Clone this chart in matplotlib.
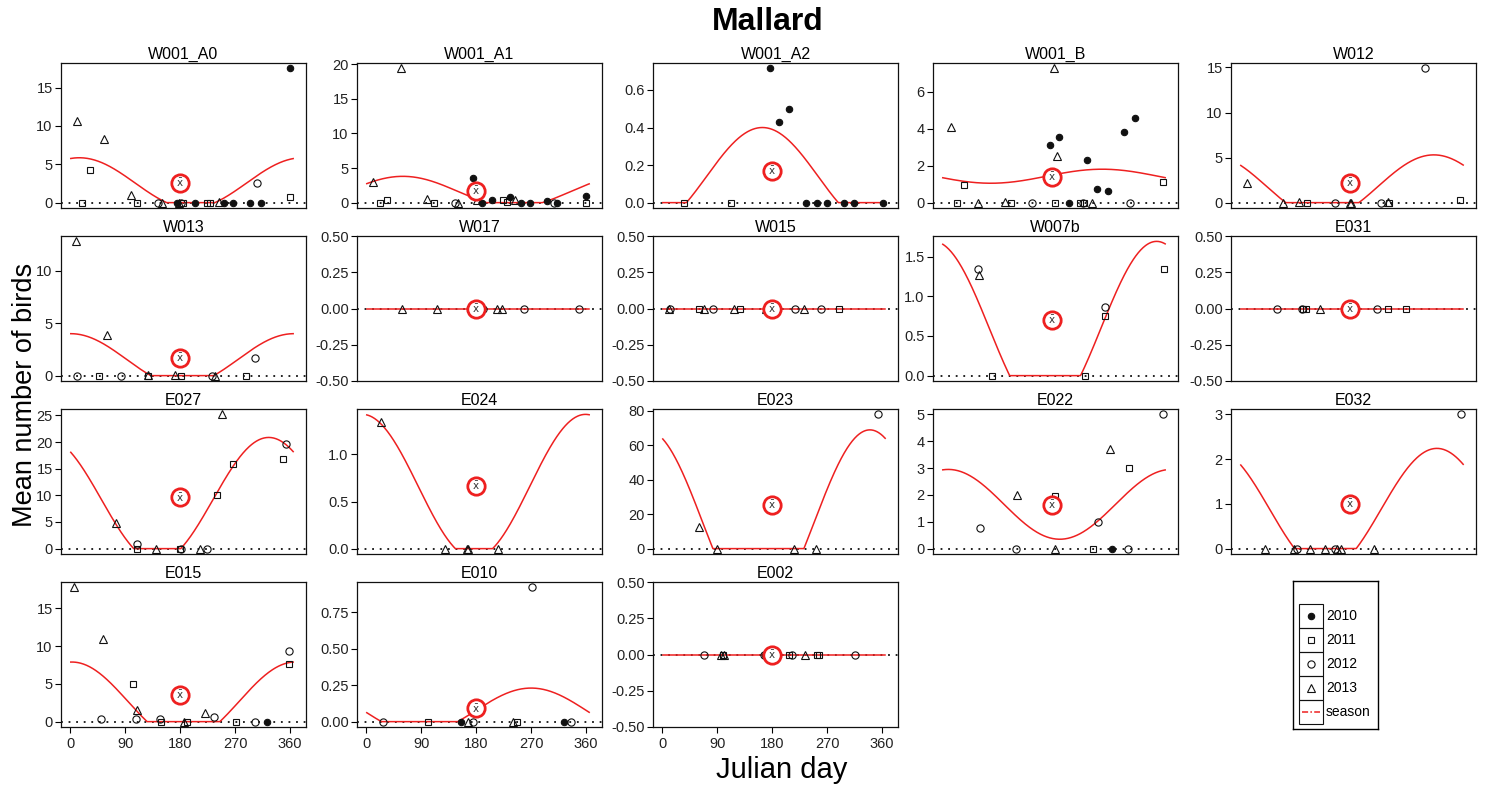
import numpy as np
import matplotlib
matplotlib.use('agg')
import matplotlib.pyplot as plt
from matplotlib.patches import Rectangle

plt.rcParams['font.family'] = ['Liberation Sans', 'DejaVu Sans']
plt.rcParams['axes.unicode_minus'] = False

sites = ['W001_A0', 'W001_A1', 'W001_A2', 'W001_B', 'W012',
         'W013', 'W017', 'W015', 'W007b', 'E031',
         'E027', 'E024', 'E023', 'E022', 'E032',
         'E015', 'E010', 'E002']

# survey points: julian day, mean count, year
W001_A0_day = [11, 55, 33, 100, 20, 110, 144, 150, 175, 178, 182, 185, 205, 224, 229, 243, 251, 267, 295, 312, 305, 359, 359]
W001_A0_val = [10.7, 8.3, 4.2, 1.0, 0, 0, 0, 0, 0, 0, 0, 0, 0, 0, 0, 0.1, 0, 0, 0, 0, 2.5, 17.5, 0.7]
W001_A0_yr = [2013, 2013, 2011, 2013, 2011, 2011, 2012, 2013, 2010, 2013, 2012, 2011, 2010, 2011, 2011, 2013, 2010, 2010, 2010, 2010, 2012, 2010, 2011]

W001_A1_day = [12, 57, 22, 34, 100, 111, 145, 150, 175, 182, 190, 206, 224, 230, 235, 243, 253, 268, 296, 307, 313, 360, 360]
W001_A1_val = [3.0, 19.4, 0, 0.35, 0.5, 0, 0, 0, 3.5, 0.4, 0, 0.4, 0.4, 0.1, 0.8, 0.35, 0, 0, 0.2, 0, 0, 1.0, 0]
W001_A1_yr = [2013, 2013, 2011, 2011, 2013, 2011, 2012, 2013, 2010, 2013, 2010, 2010, 2011, 2011, 2010, 2013, 2010, 2010, 2010, 2012, 2010, 2010, 2011]

W001_A2_day = [35, 112, 176, 191, 207, 236, 253, 270, 297, 314, 361]
W001_A2_val = [0, 0, 0.715, 0.43, 0.50, 0, 0, 0, 0, 0, 0]
W001_A2_yr = [2011, 2011, 2010, 2010, 2010, 2010, 2010, 2010, 2010, 2010, 2010]

W001_B_day = [14, 36, 24, 58, 103, 113, 147, 183, 177, 192, 188, 184, 208, 226, 232, 231, 245, 237, 254, 271, 298, 315, 308, 362]
W001_B_val = [4.07, 0.94, 0, 0, 0.05, 0, 0, 7.27, 3.13, 3.58, 2.5, 0, 0, 0, 0, 0, 0, 2.31, 0.74, 0.65, 3.83, 4.57, 0, 1.12]
W001_B_yr = [2013, 2011, 2011, 2013, 2013, 2011, 2012, 2013, 2010, 2010, 2013, 2011, 2010, 2011, 2011, 2012, 2013, 2010, 2010, 2010, 2010, 2010, 2012, 2011]

W012_day = [12, 70, 96, 109, 156, 180, 182, 231, 242, 244, 303, 360]
W012_val = [2.14, 0, 0.1, 0, 0, 0, 0, 0, 0.1, 0, 14.9, 0.26]
W012_yr = [2013, 2013, 2013, 2011, 2012, 2013, 2013, 2012, 2013, 2011, 2012, 2011]

W013_day = [9, 60, 11, 48, 83, 127, 128, 171, 182, 232, 237, 288, 303]
W013_val = [12.8, 3.9, 0, 0, 0, 0.1, 0, 0.1, 0, 0, 0, 0, 1.7]
W013_yr = [2013, 2013, 2012, 2011, 2012, 2013, 2011, 2013, 2011, 2012, 2013, 2011, 2012]

W017_day = [59, 116, 170, 192, 214, 223, 259, 349]
W017_val = [0, 0, 0, 0, 0, 0, 0, 0]
W017_yr = [2013, 2013, 2011, 2012, 2013, 2013, 2012, 2012]

W015_day = [12, 13, 61, 69, 84, 118, 128, 170, 218, 232, 260, 290]
W015_val = [0, 0, 0, 0, 0, 0, 0, 0, 0, 0, 0, 0]
W015_yr = [2013, 2012, 2011, 2013, 2012, 2013, 2011, 2013, 2012, 2013, 2012, 2011]

W007b_day = [59, 60, 81, 233, 266, 267, 363]
W007b_val = [1.34, 1.27, 0, 0, 0.86, 0.755, 1.34]
W007b_yr = [2012, 2013, 2011, 2011, 2012, 2011, 2011]

E031_day = [61, 101, 103, 108, 131, 224, 242, 272]
E031_val = [0, 0, 0, 0, 0, 0, 0, 0]
E031_yr = [2012, 2012, 2011, 2011, 2013, 2012, 2011, 2011]

E027_day = [75, 109, 109, 141, 180, 181, 212, 224, 248, 240, 266, 353, 348]
E027_val = [4.8, 0.95, 0, 0, 0, 0, 0, 0, 25.2, 10.0, 15.9, 19.7, 16.8]
E027_yr = [2013, 2012, 2011, 2013, 2011, 2012, 2013, 2012, 2013, 2011, 2011, 2012, 2011]

E024_day = [25, 129, 165, 167, 216]
E024_val = [1.34, 0, 0, 0, 0]
E024_yr = [2013, 2013, 2013, 2013, 2013]

E023_day = [61, 89, 216, 252, 354]
E023_val = [12.4, 0, 0, 0, 78]
E023_yr = [2013, 2013, 2013, 2013, 2012]

E022_day = [62, 123, 121, 185, 185, 275, 306, 362, 255, 247, 278, 304]
E022_val = [0.77, 2.0, 0, 1.97, 0, 3.7, 3.0, 5.0, 1.0, 0, 0, 0]
E022_yr = [2012, 2013, 2012, 2011, 2013, 2013, 2011, 2012, 2012, 2011, 2010, 2012]

E032_day = [41, 88, 93, 115, 139, 155, 159, 165, 219, 362]
E032_val = [0, 0, 0, 0, 0, 0, 0, 0, 0, 3.0]
E032_yr = [2013, 2013, 2012, 2013, 2013, 2012, 2013, 2013, 2013, 2012]

E015_day = [7, 54, 51, 103, 108, 110, 147, 148, 187, 191, 221, 236, 272, 303, 322, 358, 358]
E015_val = [17.8, 11.0, 0.4, 5.0, 0.4, 1.6, 0.4, 0, 0, 0, 1.2, 0.6, 0, 0, 0, 9.3, 7.7]
E015_yr = [2013, 2013, 2012, 2011, 2012, 2013, 2012, 2011, 2013, 2011, 2013, 2012, 2011, 2012, 2010, 2012, 2011]

E010_day = [28, 101, 155, 167, 175, 183, 240, 247, 272, 324, 336]
E010_val = [0, 0, 0, 0, 0, 0.1, 0, 0, 0.92, 0, 0]
E010_yr = [2012, 2011, 2010, 2013, 2012, 2011, 2013, 2011, 2012, 2010, 2012]

E002_day = [69, 97, 99, 101, 166, 168, 208, 212, 234, 253, 256, 316]
E002_val = [0, 0, 0, 0, 0, 0, 0, 0, 0, 0, 0, 0]
E002_yr = [2012, 2013, 2011, 2013, 2012, 2010, 2011, 2012, 2013, 2011, 2011, 2012]

# overall mean per site (x-bar symbol, drawn at day 180)
site_mean = [2.6, 1.7, 0.17, 1.41, 2.17, 1.66, 0, 0, 0.70, 0,
             9.6, 0.67, 25.5, 1.63, 1.0, 3.5, 0.09, 0]

# fitted seasonal curve: level + amplitude * cos(2*pi*(day - peak)/365), floored at 0
season_level = [2.56, 1.57, 0.14, 1.43, 1.8, 1.55, 0, 0, 0.594, 0,
                9.2, 0.661, 15.3, 1.65, 0.88, 2.7, 0.074, 0]
season_amp = [3.29, 2.23, 0.26, 0.38, 3.5, 2.45, 0, 0, 1.097, 0,
              11.67, 0.764, 53.7, 1.3, 1.36, 5.2, 0.156, 0]
season_peak = [15, 60, 164, 262, 317, 1, 0, 0, 351, 0,
               325, 359, 340, 10, 322, 3, 270, 0]

half = [-0.5, -0.25, 0.0, 0.25, 0.5]
y_ticks = [[0, 5, 10, 15], [0, 5, 10, 15, 20], [0.0, 0.2, 0.4, 0.6], [0, 2, 4, 6], [0, 5, 10, 15],
           [0, 5, 10], half, half, [0.0, 0.5, 1.0, 1.5], half,
           [0, 5, 10, 15, 20, 25], [0.0, 0.5, 1.0], [0, 20, 40, 60, 80], [0, 1, 2, 3, 4, 5], [0, 1, 2, 3],
           [0, 5, 10, 15], [0.0, 0.25, 0.5, 0.75], half]
x_ticks = [0, 90, 180, 270, 360]

years = [2010, 2011, 2012, 2013]
year_marker = {2010: dict(marker='o', ms=4.6, mfc='#111111', mec='#111111'),
               2011: dict(marker='s', ms=4.6, mfc='none', mec='#111111'),
               2012: dict(marker='o', ms=5.2, mfc='none', mec='#111111'),
               2013: dict(marker='^', ms=6.2, mfc='none', mec='#111111')}

points = {}
for s in sites:
    g = globals()
    points[s] = (g[s + '_day'], g[s + '_val'], g[s + '_yr'])

W, H = 1491, 787
fig = plt.figure(figsize=(W / 100, H / 100), dpi=100)

col_left = [61, 357, 653, 933, 1231]
row_top = [63, 236, 409, 582]
aw, ah = 245, 145
red = '#ee2020'


def fmt(ticks):
    if all(float(t).is_integer() for t in ticks):
        return ['%d' % t for t in ticks]
    dec = max(len(('%g' % abs(t)).split('.')[1]) if '.' in '%g' % t else 0 for t in ticks)
    return ['%.*f' % (dec, t) for t in ticks]


days = np.arange(1, 366)
for i, s in enumerate(sites):
    r, c = divmod(i, 5)
    ax = fig.add_axes([col_left[c] / W, 1 - (row_top[r] + ah) / H, aw / W, ah / H])
    d, v, yr = points[s]
    curve = np.maximum(0, season_level[i] + season_amp[i] * np.cos(2 * np.pi * (days - season_peak[i]) / 365))

    ax.axhline(0, color='#111111', lw=1.3, ls=(0, (1, 3.2)), zorder=1)
    ax.plot(days, curve, color=red, lw=1.1, zorder=2)
    for y in years:
        dd = [a for a, b in zip(d, yr) if b == y]
        vv = [a for a, b in zip(v, yr) if b == y]
        if dd:
            ax.plot(dd, vv, ls='none', mew=0.8, zorder=3, **year_marker[y])
    ax.plot([180], [site_mean[i]], marker='o', ms=12.5, mfc='white', mec=red, mew=2.0, zorder=4)
    ax.text(180, site_mean[i], r'$\bar{\mathrm{x}}$', fontsize=7.5, color='#333333',
            ha='center', va='center', zorder=5)

    lo = min(min(v), curve.min(), site_mean[i], 0)
    hi = max(max(v), curve.max(), site_mean[i], 0)
    if hi == lo:
        ax.set_ylim(-0.5, 0.5)
    else:
        pad = 0.04 * (hi - lo)
        ax.set_ylim(lo - pad, hi + pad)
    ax.set_xlim(-15, 386)

    ax.set_yticks(y_ticks[i])
    ax.set_yticklabels(fmt(y_ticks[i]))
    if r == 3:
        ax.set_xticks(x_ticks)
        ax.set_xticklabels([str(t) for t in x_ticks])
    else:
        ax.set_xticks([])
    ax.tick_params(direction='out', length=4, width=0.8, labelsize=10.5,
                   labelcolor='#222222', pad=2)
    ax.tick_params(axis='x', pad=3.5)
    for sp in ax.spines.values():
        sp.set_linewidth(0.9)
        sp.set_color('#111111')
    ax.set_title(s, fontsize=11.5, pad=3)

fig.text(768 / W, 1 - 22 / H, 'Mallard', fontsize=23, fontweight='bold', ha='center', va='center')
fig.text(782 / W, 1 - 770 / H, 'Julian day', fontsize=21, ha='center', va='center')
fig.text(25 / W, 1 - 395 / H, 'Mean number of birds', fontsize=19.5, rotation=90,
         ha='center', va='center')

# legend box drawn in its own pixel-scaled axes
lg = fig.add_axes([1293 / W, 1 - 729 / H, 85 / W, 148 / H])
lg.set_xlim(0, 85)
lg.set_ylim(148, 0)
lg.set_xticks([])
lg.set_yticks([])
for sp in lg.spines.values():
    sp.set_linewidth(1.0)
rows_y = [23, 47, 71, 95, 119, 143]
for k in range(5):
    lg.add_patch(Rectangle((6, rows_y[k]), 24, rows_y[k + 1] - rows_y[k], fill=False, lw=0.8, ec='#111111'))
labels = ['2010', '2011', '2012', '2013', 'season']
for k, lab in enumerate(labels):
    yc = (rows_y[k] + rows_y[k + 1]) / 2
    if k < 4:
        lg.plot([18], [yc], ls='none', mew=0.8, **year_marker[years[k]])
    else:
        lg.plot([9, 27], [yc, yc], color=red, lw=1.1, ls=(0, (4, 1.5, 1, 1.5)))
    lg.text(33, yc, lab, fontsize=10, va='center', ha='left')

fig.savefig('out.png', dpi=100)
